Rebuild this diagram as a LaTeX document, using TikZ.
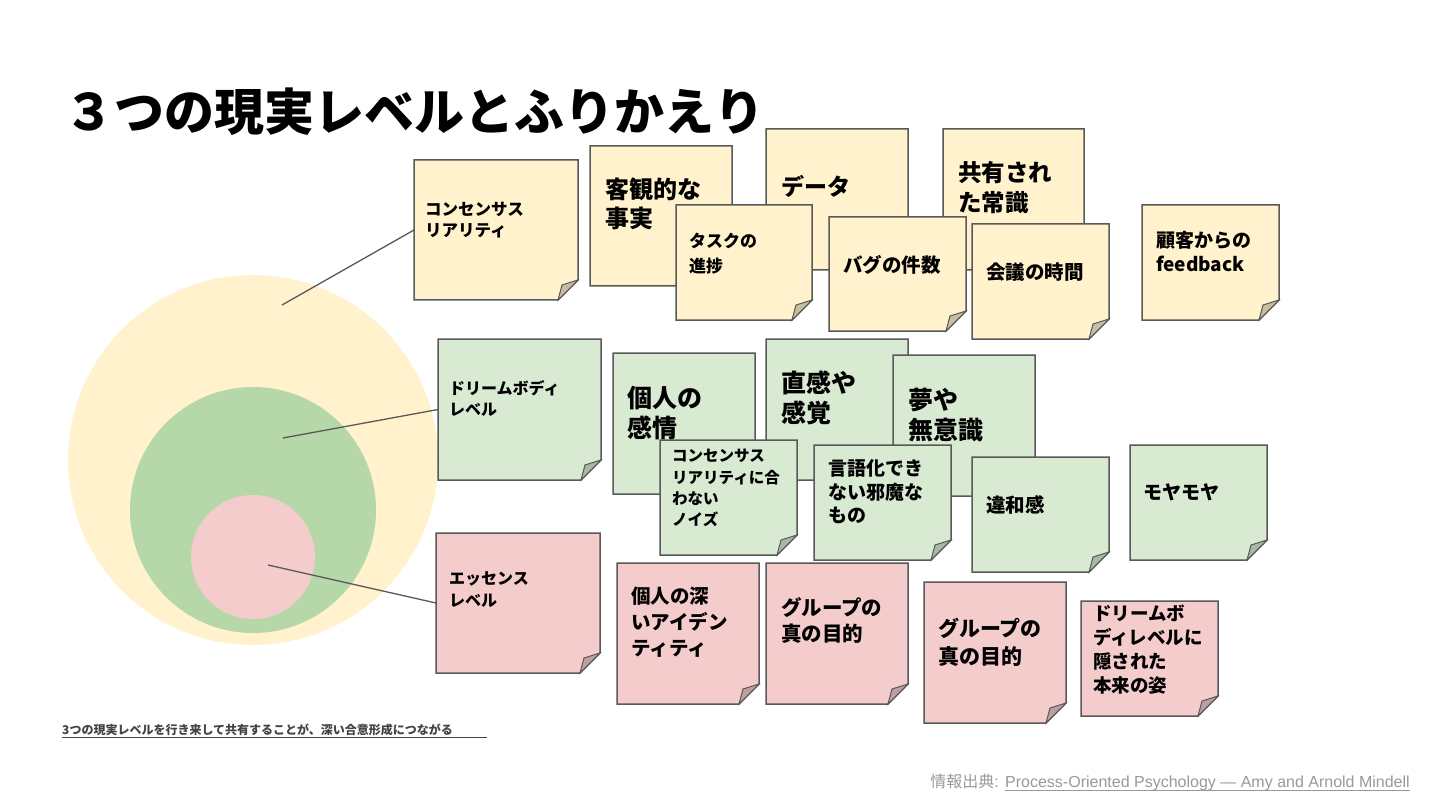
\documentclass[tikz,border=0pt]{standalone}
\usepackage{fontspec}
\setmainfont{Noto Sans CJK JP}
\newfontfamily\lib{Liberation Sans}
\usetikzlibrary{calc}
\definecolor{ylw}{HTML}{FFF2CC}
\definecolor{grn}{HTML}{D9EAD3}
\definecolor{pnk}{HTML}{F4CCCC}
\definecolor{grnc}{HTML}{B6D7A8}
\definecolor{edge}{HTML}{595959}
\definecolor{srcc}{HTML}{999999}
\definecolor{footc}{HTML}{434343}
\newcommand\notefont[2]{\fontsize{#1}{#2}\selectfont\bfseries}
\tikzset{
 notebox/.style={anchor=north west, inner sep=0, outer sep=0},
 noteedge/.style={draw=edge, line width=1.5pt, line join=miter},
 lbl/.style={anchor=north west, inner sep=0, align=left},
 link/.style={draw=edge, line width=1.3pt},
 disc/.style={circle, inner sep=0, draw=none},
}
\newcommand\sticky[6]{%
 \node[notebox, minimum width=#4pt, minimum height=#5pt] (#1) at (#2,#3) {};
 \path[noteedge, fill=#6] (#1.north west) -- (#1.north east) -- ([yshift=20pt]#1.south east) -- ([xshift=-20pt]#1.south east) -- (#1.south west) -- cycle;
 \path[noteedge, line width=1pt, fill=#6!78!black] ([yshift=20pt]#1.south east) -- ([xshift=-16pt,yshift=15pt]#1.south east) -- ([xshift=-20pt]#1.south east) -- cycle;
}
\begin{document}
\begin{tikzpicture}[x=1pt,y=-1pt]
\useasboundingbox (0,0) rectangle (1440,810);
\fill[white] (0,0) rectangle (1440,810);

% title
\node[anchor=north west, inner sep=0, font=\fontsize{50}{56}\selectfont\bfseries] (title) at (64,88) {３つの現実レベルとふりかえり};

% circles
\node[disc, fill=ylw, minimum size=370pt] (cy) at (253,460) {};
\node[disc, fill=grnc, minimum size=246pt] (cg) at (253,510) {};
\node[disc, fill=pnk, minimum size=124pt] (cp) at (253,557) {};
\coordinate (a1) at (282,305);
\coordinate (a2) at (283,438);
\coordinate (a3) at (268,565);

% yellow notes
\sticky{n1}{414}{160}{164}{140}{ylw}
\node[lbl, font=\notefont{16.5}{21}] (t1) at (425,201.75) {コンセンサス\\リアリティ};
\sticky{n2}{590}{146}{142}{140}{ylw}
\node[lbl, font=\notefont{24}{29}] (t2) at (605,178) {客観的な\\事実};
\sticky{n3}{766}{129}{142}{141}{ylw}
\node[lbl, font=\notefont{23}{29}] (t3) at (781,175.5) {データ};
\sticky{n4}{943}{129}{141}{141}{ylw}
\node[lbl, font=\notefont{23.5}{30}] (t4) at (958,161.25) {共有され\\た常識};
\sticky{n5}{676}{205}{136}{115}{ylw}
\node[lbl, font=\notefont{17}{25}] (t5) at (689,232.5) {タスクの\\進捗};
\sticky{n6}{829}{217}{137}{114}{ylw}
\node[lbl, font=\notefont{19.5}{24}] (t6) at (843,255.25) {バグの件数};
\sticky{n7}{972}{224}{137}{115}{ylw}
\node[lbl, font=\notefont{19.5}{24}] (t7) at (986,262.25) {会議の時間};
\sticky{n8}{1142}{205}{137}{115}{ylw}
\node[lbl, font=\notefont{19}{24}] (t8) at (1156,231.5) {顧客からの\\feedback};

% green notes
\sticky{n9}{438}{339}{163}{141}{grn}
\node[lbl, font=\notefont{16}{21}] (t9) at (449,380) {ドリームボディ\\レベル};
\sticky{n10}{613}{353}{142}{141}{grn}
\node[lbl, font=\notefont{25}{30}] (t10) at (627,385.5) {個人の\\感情};
\sticky{n11}{766}{339}{142}{141}{grn}
\node[lbl, font=\notefont{25}{30}] (t11) at (781,370.5) {直感や\\感覚};
\sticky{n12}{893}{355}{142}{141}{grn}
\node[lbl, font=\notefont{25}{30}] (t12) at (908,387.5) {夢や\\無意識};
\sticky{n13}{660}{440}{137}{115}{grn}
\node[lbl, font=\notefont{15.5}{21.3}] (t13) at (672,449.25) {コンセンサス\\リアリティに合\\わない\\ノイズ};
\sticky{n14}{814}{445}{137}{115}{grn}
\node[lbl, font=\notefont{19}{23.5}] (t14) at (828,459.5) {言語化でき\\ない邪魔な\\もの};
\sticky{n15}{972}{457}{137}{115}{grn}
\node[lbl, font=\notefont{19.5}{24}] (t15) at (986,495.25) {違和感};
\sticky{n16}{1130}{445}{137}{115}{grn}
\node[lbl, font=\notefont{19}{24}] (t16) at (1143,483.5) {モヤモヤ};

% pink notes
\sticky{n17}{436}{533}{164}{140}{pnk}
\node[lbl, font=\notefont{16}{22}] (t17) at (449,572) {エッセンス\\レベル};
\sticky{n18}{617}{563}{142}{141}{pnk}
\node[lbl, font=\notefont{19.5}{26}] (t18) at (631,586.25) {個人の深\\いアイデン\\ティティ};
\sticky{n19}{766}{563}{142}{141}{pnk}
\node[lbl, font=\notefont{20.5}{26}] (t19) at (781,597.75) {グループの\\真の目的};
\sticky{n20}{924}{582}{142}{141}{pnk}
\node[lbl, font=\notefont{21}{28}] (t20) at (938,617.5) {グループの\\真の目的};
\sticky{n21}{1081}{601}{137}{115}{pnk}
\node[lbl, font=\notefont{18.5}{24}] (t21) at (1093,604.75) {ドリームボ\\ディレベルに\\隠された\\本来の姿};

% connectors
\draw[link] (a1) -- (n1.west);
\draw[link] (a2) -- (n9.west);
\draw[link] (a3) -- (n17.west);

% footnote
\node[anchor=base west, inner sep=0, text=footc, font=\fontsize{12}{14}\selectfont\bfseries] (foot) at (62,734.6) {3つの現実レベルを行き来して共有することが、深い合意形成につながる};
\draw[footc, line width=1.2pt] ([yshift=-3pt]foot.base west) -- ([yshift=-3pt,xshift=425pt]foot.base west);

% source
\node[anchor=base east, inner sep=0, text=srcc, font=\lib\fontsize{16}{19}\selectfont] (src2) at (1410,787.5) {Process-Oriented Psychology — Amy and Arnold Mindell};
\node[anchor=base east, inner sep=0, text=srcc, font=\fontsize{16}{19}\selectfont] (src1) at ([xshift=-6pt]src2.base west) {情報出典\lib :};
\draw[srcc, line width=0.9pt] ([yshift=-2.5pt]src2.base west) -- ([yshift=-2.5pt]src2.base east);
\end{tikzpicture}
\end{document}
